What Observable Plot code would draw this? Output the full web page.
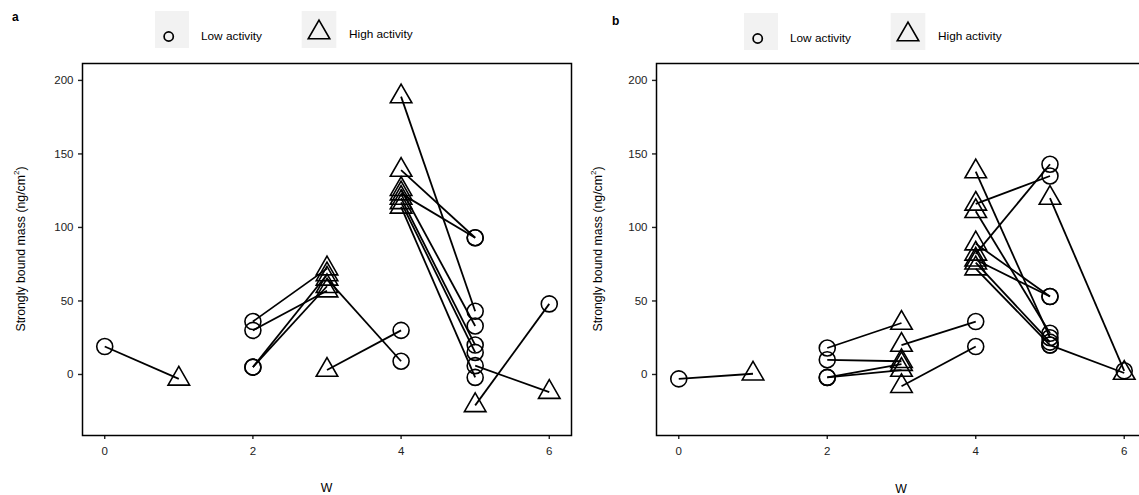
<!DOCTYPE html>
<html><head><meta charset="utf-8">
<script src="https://cdn.jsdelivr.net/npm/d3@7"></script>
<script src="https://cdn.jsdelivr.net/npm/@observablehq/plot@0.6"></script>
<style>
body{margin:0;width:1139px;height:495px;overflow:hidden;background:#fff;position:relative;font-family:"Liberation Sans",Arial,sans-serif;color:#000}
.abs{position:absolute;white-space:nowrap}
svg{max-width:none !important}
</style></head><body>
<script>
// ---- data (paired measurements: low-activity point linked to high-activity point) ----
const xTicks = [0, 2, 4, 6];
const yTicks = [0, 50, 100, 150, 200];
const legendLabels = ["Low activity", "High activity"];
const yTitle = "Strongly bound mass (ng/cm";
const xTitle = "W";

// panel a
const aLowW  = [0, 2, 2, 2, 2, 4, 4, 5, 5, 5, 5, 5, 5, 5, 5, 6];
const aLowV  = [19, 36, 30, 5, 5, 9, 30, 43, 93, 93, 33, 20, 15, -2, 6, 48];
const aHighW = [1, 3, 3, 3, 3, 3, 3, 4, 4, 4, 4, 4, 4, 4, 6, 5];
const aHighV = [-3, 72, 57, 68, 60, 65, 3, 189, 139, 123, 126, 120, 117, 114, -12, -21];

// panel b
const bLowW  = [0, 2, 2, 2, 2, 4, 4, 5, 5, 5, 5, 5, 5, 5, 5, 6, 5];
const bLowV  = [-3, 18, 10, -2, -2, 36, 19, 25, 135, 28, 53, 143, 53, 22, 20, 2.5, 20];
const bHighW = [1, 3, 3, 3, 3, 3, 3, 4, 4, 4, 4, 4, 4, 4, 4, 5, 6];
const bHighV = [0.5, 35, 9, 7, 3, 20, -8, 138, 116, 111, 89, 82, 78, 76, 72, 120, 1];

function addDiv(html, style) {
  const d = document.createElement("div");
  d.className = "abs";
  d.innerHTML = html;
  Object.assign(d.style, style);
  document.body.appendChild(d);
  return d;
}

function panel(opt) {
  const pairs = opt.lowW.map((w, i) => ({lw: w, lv: opt.lowV[i], hw: opt.highW[i], hv: opt.highV[i]}));
  const svg = Plot.plot({
    width: opt.width, height: 410,
    marginLeft: 82, marginRight: 4, marginTop: 8, marginBottom: 30,
    style: {fontFamily: '"Liberation Sans", Arial, sans-serif', fontSize: "11.5px", background: "transparent", overflow: "visible", maxWidth: "none"},
    x: {domain: [-0.3, 6.3]},
    y: {domain: [-41.5, 211.5]},
    marks: [
      Plot.axisX({ticks: xTicks, tickFormat: d => String(d), tickSize: 4, tickPadding: 7, label: null, color: "#222", strokeWidth: 1.4}),
      Plot.axisY({ticks: yTicks, tickFormat: d => String(d), tickSize: 4, tickPadding: 5, label: null, color: "#222", strokeWidth: 1.4}),
      Plot.link(pairs, {x1: "lw", y1: "lv", x2: "hw", y2: "hv", stroke: "black", strokeWidth: 1.8}),
      Plot.dot(pairs, {x: "lw", y: "lv", r: 8, symbol: "circle", stroke: "black", fill: "none", strokeWidth: 1.6}),
      Plot.dot(pairs, {x: "hw", y: "hv", r: 8, symbol: "triangle", stroke: "black", fill: "none", strokeWidth: 1.6}),
      Plot.frame({stroke: "black", strokeWidth: 1.5})
    ]
  });
  svg.style.maxWidth = "none";
  const wrap = document.createElement("div");
  wrap.className = "abs";
  Object.assign(wrap.style, {left: opt.left + "px", top: "55px", width: opt.width + "px"});
  wrap.appendChild(svg);
  document.body.appendChild(wrap);

  // panel tag
  addDiv(opt.tag, {left: opt.tagX + "px", top: opt.tagY + "px", fontWeight: "bold", fontSize: "12px"});

  // legend
  const lx = opt.legendX, ly = opt.legendY;
  const leg = d3.create("svg").attr("width", 200).attr("height", 40)
    .style("position", "absolute").style("left", lx + "px").style("top", ly + "px");
  leg.append("rect").attr("x", 0).attr("y", 0).attr("width", 34).attr("height", 37).attr("fill", "#f2f2f2");
  leg.append("circle").attr("cx", 13.7).attr("cy", 25.5).attr("r", 4.6)
    .attr("fill", "none").attr("stroke", "black").attr("stroke-width", 1.7);
  leg.append("rect").attr("x", 146.7).attr("y", 0).attr("width", 34.6).attr("height", 37).attr("fill", "#f2f2f2");
  leg.append("path").attr("transform", "translate(164,21.6)")
    .attr("d", d3.symbol(d3.symbolTriangle, Math.PI * 64)())
    .attr("fill", "none").attr("stroke", "black").attr("stroke-width", 1.6);
  document.body.appendChild(leg.node());
  addDiv(legendLabels[0], {left: (lx + 46) + "px", top: (ly + 18) + "px", fontSize: "11.8px"});
  addDiv(legendLabels[1], {left: (lx + 194) + "px", top: (ly + 16) + "px", fontSize: "11.8px"});

  // axis titles
  addDiv(yTitle + "<sup style='font-size:8px'>2</sup>)", {left: opt.yTitleX + "px", top: "249px",
    fontSize: "12.3px", transform: "translate(-50%,-50%) rotate(-90deg)"});
  addDiv(xTitle, {left: opt.xTitleX + "px", top: opt.xTitleY + "px", fontSize: "12.3px", transform: "translate(-50%,-50%)"});
}

panel({left: 0, width: 575, lowW: aLowW, lowV: aLowV, highW: aHighW, highV: aHighV,
  tag: "a", tagX: 12, tagY: 10, legendX: 155, legendY: 11, yTitleX: 20, xTitleX: 326.5, xTitleY: 488});
panel({left: 574, width: 576, lowW: bLowW, lowV: bLowV, highW: bHighW, highV: bHighV,
  tag: "b", tagX: 612, tagY: 14, legendX: 744, legendY: 13, yTitleX: 597, xTitleX: 901, xTitleY: 489});
</script>
</body></html>
